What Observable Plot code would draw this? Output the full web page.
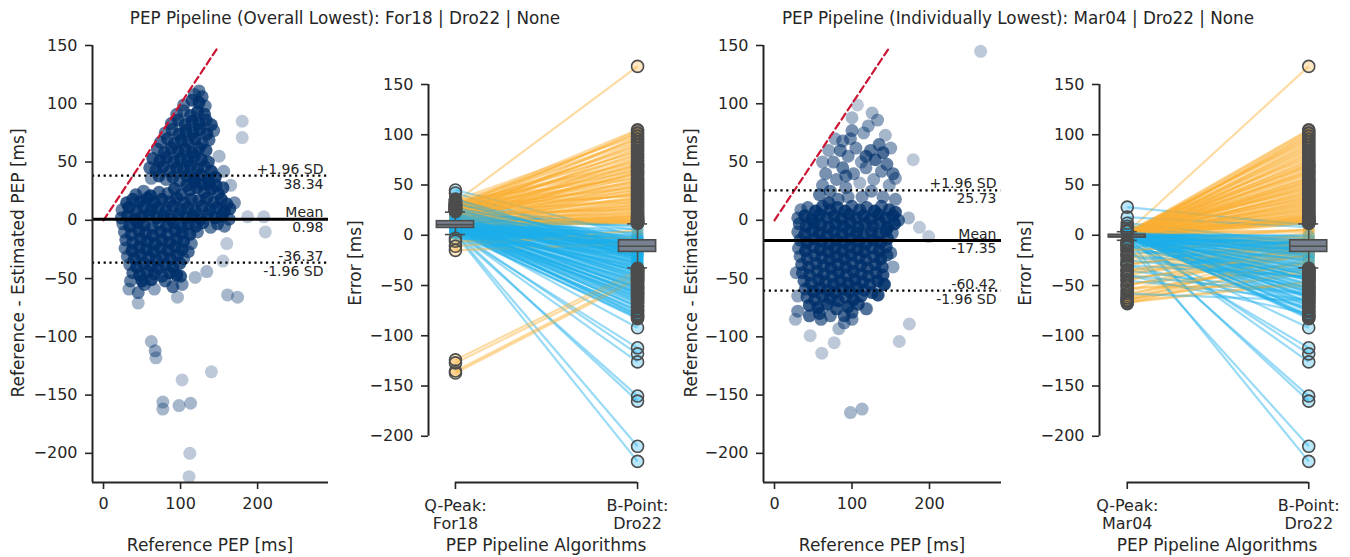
<!DOCTYPE html>
<html>
<head>
<meta charset="utf-8">
<script src="https://cdn.jsdelivr.net/npm/d3@7"></script>
<script src="https://cdn.jsdelivr.net/npm/@observablehq/plot@0.6"></script>
<style>
  html, body { margin: 0; padding: 0; background: #fff; }
  #wrap { position: relative; width: 1350px; height: 557px; overflow: hidden; font-family: "DejaVu Sans", sans-serif; color: #262626; }
  #wrap svg { position: absolute; top: 0; }
  .lbl { position: absolute; white-space: nowrap; font-size: 17px; line-height: 20px; transform: translate(-50%, -50%); }
  .rot { transform: translate(-50%, -50%) rotate(-90deg); }
  .ttl { position: absolute; top: 7px; white-space: nowrap; font-size: 16.8px; line-height: 22px; transform: translateX(-50%); }
</style>
</head>
<body>
<div id="wrap"></div>
<script>
// ------------------------------------------------------------------ DATA
const titles = [
  "PEP Pipeline (Overall Lowest): For18 | Dro22 | None",
  "PEP Pipeline (Individually Lowest): Mar04 | Dro22 | None"
];
const yTicks = [-200, -150, -100, -50, 0, 50, 100, 150];
const refTicks = [0, 100, 200];
const identityRange = [0, 148];

// Bland-Altman statistics: [mean, +1.96 SD, -1.96 SD]
const baStatsOverall = [0.98, 38.34, -36.37];
const baStatsIndividual = [-17.35, 25.73, -60.42];

// Bland-Altman points [Reference PEP, Reference - Estimated PEP] (overall lowest)
const baPointsOverall = [
  [42,22],[52,25],[61,21],[72,24],[83,23],[92,27],[101,22],[112,26],[121,28],[131,24],[140,27],[149,23],
  [30,15],[38,18],[47,16],[57,19],[66,15],[76,18],[86,16],[95,19],[105,15],[114,18],[124,17],[134,19],[143,15],[153,18],[160,14],
  [24,9],[33,11],[43,8],[52,12],[62,9],[71,11],[81,8],[90,12],[100,9],[109,11],[119,8],[128,12],[138,9],[147,11],[157,8],[164,10],
  [23,2],[31,4],[41,1],[50,3],[59,5],[69,2],[78,4],[88,1],[97,5],[107,2],[116,4],[126,1],[135,5],[145,2],[154,4],[163,1],
  [25,-3],[34,-5],[44,-2],[53,-4],[63,-6],[72,-3],[82,-5],[91,-2],[101,-6],[110,-3],[120,-5],[129,-2],[139,-6],[148,-3],[157,-5],
  [118,33],[128,31],[137,32],[146,30],[155,28],[108,30],
  [27,-10],[36,-12],[46,-9],[55,-11],[64,-13],[74,-10],[83,-12],[93,-9],[102,-11],[112,-12],[122,-10],
  [29,-17],[38,-19],[48,-16],[57,-18],[67,-20],[76,-17],[86,-19],[95,-16],[104,-18],[114,-20],
  [28,-24],[37,-26],[46,-23],[56,-25],[65,-27],[74,-24],[84,-26],[93,-23],[102,-25],[110,-27],
  [31,-31],[40,-33],[49,-30],[59,-32],[68,-34],[77,-31],[87,-33],[96,-30],[104,-33],
  [34,-38],[43,-40],[52,-37],[62,-39],[71,-41],[80,-38],[90,-40],[99,-37],
  [38,-45],[47,-47],[57,-44],[66,-46],[76,-48],[86,-45],[95,-47],
  [35,-52],[50,-52],[62,-51],[80,-52],[100,-48],
  [62,36],[72,38],[81,35],[90,37],[99,34],[108,38],[117,36],[126,39],[136,35],[145,37],
  [60,45],[68,43],[77,46],[86,42],[95,45],[104,43],[113,47],[122,44],[131,46],[140,42],
  [64,53],[73,51],[82,54],[91,50],[100,53],[109,51],[118,55],[127,52],[136,50],
  [70,61],[79,58],[88,62],[97,59],[106,61],[115,58],[124,62],[133,60],
  [74,67],[83,70],[92,66],[101,69],[110,67],[119,70],[128,66],[137,69],
  [80,75],[89,78],[98,74],[107,77],[116,75],[125,78],[134,74],[143,77],
  [88,83],[97,86],[106,82],[115,85],[124,83],[133,86],[140,82],
  [95,91],[104,94],[113,90],[122,93],[131,91],
  [104,99],[115,103],[124,101],[132,98],
  [118,108],[124,111],[128,106],
  [180,85],[180,71],[156,42],[150,55],[165,30],[170,15],[187,3],[208,3],[210,-10],[160,-20],[155,-35],
  [33,-59],[45,-62],[45,-71],[53,-55],[66,-59],[96,-66],[90,-57],[102,-55],[119,-49],[134,-44],
  [161,-64],[174,-66],[62,-104],[67,-112],[68,-118],[102,-137],[140,-130],[77,-156],[77,-162],[98,-159],
  [113,-157],[112,-200],[111,-220]
];

// Bland-Altman points (individually lowest)
const baPointsIndividual = [
  [34,9],[43,11],[53,8],[62,12],[72,9],[81,11],[91,8],[100,12],[110,9],[119,11],[129,8],[138,12],[148,9],[156,7],
  [30,2],[39,4],[48,1],[58,5],[67,2],[77,4],[86,1],[96,5],[105,2],[115,4],[124,1],[134,5],[143,2],[153,4],[160,0],
  [32,-3],[41,-5],[51,-2],[60,-4],[70,-6],[79,-3],[89,-5],[98,-2],[108,-6],[117,-3],[127,-5],[136,-2],[146,-6],[155,-3],
  [30,-10],[39,-12],[49,-9],[58,-11],[68,-13],[77,-10],[87,-12],[96,-9],[106,-11],[115,-13],[125,-10],[134,-12],[144,-9],[152,-11],
  [33,-17],[42,-19],[52,-16],[61,-18],[71,-20],[80,-17],[90,-19],[99,-16],[109,-18],[118,-20],[128,-17],[137,-19],[146,-16],
  [31,-24],[40,-26],[50,-23],[59,-25],[69,-27],[78,-24],[88,-26],[97,-23],[107,-25],[116,-27],[126,-24],[135,-26],[144,-23],
  [33,-31],[42,-33],[52,-30],[61,-32],[71,-34],[80,-31],[90,-33],[99,-30],[109,-32],[118,-34],[128,-31],[137,-33],[145,-30],
  [35,-38],[44,-40],[54,-37],[63,-39],[73,-41],[82,-38],[92,-40],[101,-37],[111,-39],[120,-41],[130,-38],[139,-40],
  [36,-45],[45,-47],[55,-44],[64,-46],[74,-48],[83,-45],[93,-47],[102,-44],[112,-46],[121,-48],[131,-45],[140,-47],
  [38,-52],[47,-54],[57,-51],[66,-53],[76,-55],[85,-52],[95,-54],[104,-51],[114,-53],[123,-55],[133,-52],
  [40,-59],[50,-61],[59,-58],[69,-60],[78,-62],[88,-59],[97,-61],[107,-58],[116,-60],[126,-62],
  [42,-66],[52,-68],[62,-65],[72,-67],[82,-69],[92,-66],[102,-68],[112,-65],
  [45,-73],[56,-75],[68,-72],[80,-76],[95,-74],[108,-72],
  [150,-28],[153,-40],[142,-55],[134,-64],[30,-65],[28,-45],[58,-80],[72,-82],[90,-82],[100,-79],[118,-76],
  [58,22],[62,30],[66,40],[72,25],[76,50],[80,35],[85,60],[88,45],[92,28],[95,55],
  [98,70],[100,88],[102,40],[105,62],[107,99],[110,32],[112,50],[115,75],[118,45],[121,81],
  [124,60],[126,92],[128,35],[130,52],[133,86],[135,65],[138,42],[140,58],[143,73],[145,48],
  [148,30],[150,62],[153,40],[156,36],[156,18],[100,77],[88,68],[118,55],[113,20],[125,25],
  [82,18],[70,15],[95,20],[140,20],[92,38],[62,50],[70,60],[78,70],
  [179,52],[173,2],[187,-6],[199,-14],[266,145],[27,-85],[46,-99],[61,-114],[77,-105],[83,-93],
  [119,-76],[161,-104],[174,-89],[98,-165],[113,-162],[141,-55],[133,-64],[30,-78],[45,-82],[60,-85],
  [90,-88],[100,-85]
];

// Paired per-heartbeat errors [ms] (same heartbeat at the same index)
const errQFor18 = [
  33,30,28,35,26,31,24,29,27,22,  25,20,32,18,23,27,15,21,19,30,
  17,24,14,28,12,20,16,26,13,22,  11,18,15,13,10,21,14,12,16,11,
  13,12,10,11,14,9,12,10,11,9,
  14,22,11,30,9,18,12,45,8,25,   10,16,7,35,12,20,3,27,11,14,
  9,23,12,5,31,13,10,19,42,8,    15,11,21,6,13,28,10,17,12,24,
  9,14,33,11,7,20,12,16,4,10,    13,8,22,10,15,6,12,18,9,11,
  10,7,13,5,9,11,4,8,6,12,
  8,5,10,3,7,6,9,2,4,6,          2,5,3,1,4,2,1,-124,-127,-135,
  -137,-3,-6,-11,-15,
  24,29,19,33,22,27,17,30,25,14, 28,21,31,12,26,18,23,35,16,29,
  20,13,27,24,11,22,30,15,19,25, 12,17,21,14,10,13,11,9,
  12,20,9,27,14,6,18,11,24,15,   8,32,13,19,10,22,7,16,36,12,
  9,26,14,11,17,5,20,13,10,15,   8,12,11,9,14,7,10,6,11,8,
  10,7,12,9,6,8,5,7,4,6,3
];
const errQMar04 = [
  3,2,0,-1,1,4,-2,0,2,-3,        1,-1,3,0,2,-2,1,0,-4,2,
  0,1,-1,2,5,-3,0,1,-2,3,        0,-1,2,1,-2,0,3,-1,1,0,
  2,-3,1,0,-1,4,-2,0,1,-4,
  28,18,-8,2,0,-20,1,-12,3,-30,  1,-40,2,-15,0,-55,-1,12,-25,1,
  -2,0,-45,2,-18,1,-60,9,0,-35,  0,-65,3,-28,1,-2,-50,7,-38,0,
  -68,1,-3,-58,0,-42,2,-5,-62,1, 0,-48,-2,-64,1,-30,-4,2,-66,0,
  -1,-20,0,-10,2,-35,-3,1,-45,0,
  -2,1,-30,0,2,-40,-1,1,0,-8,    -5,0,2,-1,3,-10,-3,-20,-15,-6,
  -12,0,-4,1,-2,
  1,-2,0,3,-1,2,0,-3,1,4,        -1,0,2,-2,1,3,-1,0,-4,2,
  1,-2,0,3,-1,1,0,2,-3,0,        1,-1,2,0,-2,1,3,-1,
  0,-15,2,-35,1,-22,0,3,-50,1,   -28,0,-6,2,-44,0,1,-62,-2,0,
  -36,1,-9,0,-55,2,-1,-64,0,-25, 1,-67,0,-52,2,-3,-40,0,1,-58,
  1,-2,0,3,-1,0,2,-3,1,0,-1
];
const errBDro22 = [
  168,105,102,99,96,93,90,87,84,81,  78,75,72,70,68,65,63,61,58,56,
  54,52,50,48,46,44,42,40,38,36,     34,32,30,28,27,25,24,22,21,20,
  19,18,17,16,15,14,14,13,12,12,
  10,8,6,5,3,2,0,-1,-2,-3,           -4,-5,-5,-6,-7,-7,-8,-8,-9,-9,
  -10,-10,-11,-11,-12,-12,-13,-13,-14,-14,  -15,-15,-16,-17,-17,-18,-19,-20,-21,-22,
  -23,-24,-25,-26,-27,-28,-29,-30,-31,-32,  -34,-35,-37,-38,-40,-41,-43,-44,-46,-48,
  -50,-52,-53,-55,-57,-58,-60,-62,-64,-66,
  -68,-70,-72,-74,-76,-78,-80,-82,-83,-92,  -112,-118,-126,-160,-165,-210,-225,-35,-38,-42,
  -44,-20,-2,5,-8,
  104,101,98,95,92,89,86,83,80,77,   74,71,69,67,64,62,60,57,55,53,
  51,49,47,45,43,41,39,37,35,33,     31,29,26,23,19,17,15,13,
  -1,-3,-4,-6,-6,-8,-9,-10,-11,-12,  -12,-13,-14,-15,-16,-16,-17,-18,-19,-20,
  -21,-22,-24,-26,-28,-30,-33,-36,-39,-42,  -45,-47,-49,-51,-54,-56,-59,-61,-63,-65,
  -34,-36,-40,-45,-52,-58,-67,-71,-75,-79,-81
];

// Box statistics: [lower whisker, Q1, median, Q3, upper whisker]
const boxFor18 = [0.7, 7.3, 10.6, 14, 23];
const boxMar04 = [-5, -2.3, -1, 0.5, 3.5];
const boxDro22 = [-32.5, -16.6, -11, -5, 11.3];

const labelsOverall = ["Q-Peak:\nFor18", "B-Point:\nDro22"];
const labelsIndividual = ["Q-Peak:\nMar04", "B-Point:\nDro22"];

// ------------------------------------------------------------------ STYLE
const NAVY = "#00306b", RED = "#cc1433", ORANGE = "#fbb034", BLUE = "#1cb0ec";
const INK = "#262626", BOXFILL = "#77818f", BOXLINE = "#4d4d4d";
const FONT = '"DejaVu Sans", sans-serif';
const TICKFONT = 16, ANNFONT = 14;
const baseStyle = {fontFamily: FONT, fontSize: TICKFONT + "px", color: INK, background: "transparent", overflow: "visible"};

const wrap = document.getElementById("wrap");
function place(svg, left) { svg.style.left = left + "px"; wrap.appendChild(svg); }
function html(text, x, y, cls) {
  const d = document.createElement("div");
  d.className = cls; d.textContent = text;
  d.style.left = x + "px"; d.style.top = y + "px";
  wrap.appendChild(d);
}

// overlapping translucent markers: opacity grows with the local crowding (in pixels)
function crowdOpacity(pts, sx, sy) {
  return pts.map(([x, y]) => {
    let n = 0;
    for (const [u, v] of pts) {
      const dx = (u - x) * sx, dy = (v - y) * sy;
      if (dx * dx + dy * dy < 170) n++;
    }
    return Math.min(0.88, 0.26 + 0.09 * (n - 1));
  });
}

function blandAltman({pts, stats, xDom, width, mL, mR}) {
  const yDom = [-225, 150];
  const [mean, hi, lo] = stats;
  const f = v => v.toFixed(2);
  const above = [{y: hi, t: "+1.96 SD"}, {y: mean, t: "Mean"}, {y: lo, t: f(lo)}];
  const below = [{y: hi, t: f(hi)}, {y: mean, t: f(mean)}, {y: lo, t: "-1.96 SD"}];
  const pw = width - mL - mR, ph = 557 - 45 - 75;
  const op = crowdOpacity(pts, pw / (xDom[1] - xDom[0]), ph / (yDom[1] - yDom[0]));
  return Plot.plot({
    width, height: 557, marginLeft: mL, marginRight: mR, marginTop: 45, marginBottom: 75,
    x: {domain: xDom}, y: {domain: yDom}, opacity: {type: "identity"},
    style: baseStyle,
    marks: [
      Plot.dot(pts, {x: d => d[0], y: d => d[1], r: 6.5, fill: NAVY, fillOpacity: (d, i) => op[i]}),
      Plot.line(identityRange.map(v => [v, v]), {x: d => d[0], y: d => d[1], stroke: RED, strokeWidth: 2.2, strokeDasharray: "7,4"}),
      Plot.ruleY([mean], {stroke: "#000", strokeWidth: 3}),
      Plot.ruleY([hi, lo], {stroke: "#000", strokeWidth: 2.2, strokeDasharray: "2.2,3.6"}),
      Plot.text(above, {x: xDom[1], y: "y", text: "t", textAnchor: "end", lineAnchor: "bottom", dx: -5, dy: -2, fontSize: ANNFONT, fill: INK}),
      Plot.text(below, {x: xDom[1], y: "y", text: "t", textAnchor: "end", lineAnchor: "top", dx: -5, dy: 3, fontSize: ANNFONT, fill: INK}),
      Plot.ruleX([xDom[0]], {y1: yDom[0], y2: yDom[1], stroke: INK, strokeWidth: 2}),
      Plot.ruleY([yDom[0]], {x1: xDom[0], x2: xDom[1], stroke: INK, strokeWidth: 2}),
      Plot.axisY(yTicks, {tickSize: 7, tickPadding: 8, label: null, fontSize: TICKFONT, strokeWidth: 1.6}),
      Plot.axisX(refTicks, {tickSize: 7, tickPadding: 8, label: null, fontSize: TICKFONT, strokeWidth: 1.6})
    ]
  });
}

function slopePanel({q, b, qStats, bStats, labels, xDom, width, mL, mR}) {
  const yDom = [-246, 188.8];
  const n = Math.min(q.length, b.length);
  const rows = q.slice(0, n).map((v, i) => ({q: v, b: b[i], c: b[i] > v ? ORANGE : BLUE}));
  const W = 0.102, C = 0.055;
  const box = (s, pos) => [
    Plot.ruleX([s], {x: () => pos, y1: d => d[0], y2: d => d[1], stroke: BOXLINE, strokeWidth: 1.6}),
    Plot.ruleX([s], {x: () => pos, y1: d => d[3], y2: d => d[4], stroke: BOXLINE, strokeWidth: 1.6}),
    Plot.ruleY([s[0], s[4]], {y: d => d, x1: () => pos - C, x2: () => pos + C, stroke: BOXLINE, strokeWidth: 1.6}),
    Plot.rect([s], {x1: () => pos - W, x2: () => pos + W, y1: d => d[1], y2: d => d[3], fill: BOXFILL, stroke: BOXLINE, strokeWidth: 1.6}),
    Plot.ruleY([s[2]], {y: d => d, x1: () => pos - W, x2: () => pos + W, stroke: BOXLINE, strokeWidth: 1.6})
  ];
  const fl = (vals, s) => vals.filter(v => v < s[0] || v > s[4]);
  return Plot.plot({
    width, height: 557, marginLeft: mL, marginRight: mR, marginTop: 45, marginBottom: 75,
    x: {domain: xDom}, y: {domain: yDom}, color: {type: "identity"},
    style: baseStyle,
    marks: [
      Plot.link(rows, {x1: () => 0, y1: "q", x2: () => 1, y2: "b", stroke: "c", strokeOpacity: 0.45, strokeWidth: 2.2}),
      Plot.dot(rows, {x: () => 0, y: "q", r: 6, fill: "c", fillOpacity: 0.3}),
      Plot.dot(rows, {x: () => 1, y: "b", r: 6, fill: "c", fillOpacity: 0.3}),
      ...box(qStats, 0),
      ...box(bStats, 1),
      Plot.dot(fl(rows.map(d => d.q), qStats), {x: () => 0, y: d => d, r: 6, stroke: BOXLINE, strokeWidth: 1.6, fill: "none"}),
      Plot.dot(fl(rows.map(d => d.b), bStats), {x: () => 1, y: d => d, r: 6, stroke: BOXLINE, strokeWidth: 1.6, fill: "none"}),
      Plot.ruleX([xDom[0]], {y1: yTicks[0], y2: yTicks[yTicks.length - 1], stroke: INK, strokeWidth: 2}),
      Plot.ruleY([yDom[0]], {x1: 0, x2: 1, stroke: INK, strokeWidth: 2}),
      Plot.axisY(yTicks, {tickSize: 7, tickPadding: 8, label: null, fontSize: TICKFONT, strokeWidth: 1.6}),
      Plot.axisX([0, 1], {tickSize: 7, tickPadding: 8, label: null, fontSize: TICKFONT, strokeWidth: 1.6, lineHeight: 1.15, tickFormat: i => labels[i]})
    ]
  });
}

// ------------------------------------------------------------------ RENDER
place(blandAltman({pts: baPointsOverall, stats: baStatsOverall, xDom: [-14.3, 292], width: 340, mL: 92, mR: 12}), 0);
place(slopePanel({q: errQFor18, b: errBDro22, qStats: boxFor18, bStats: boxDro22, labels: labelsOverall, xDom: [-0.148, 1.148], width: 340, mL: 88, mR: 16}), 340);
place(blandAltman({pts: baPointsIndividual, stats: baStatsIndividual, xDom: [-14.2, 292.9], width: 340, mL: 83, mR: 19}), 680);
place(slopePanel({q: errQMar04, b: errBDro22, qStats: boxMar04, bStats: boxDro22, labels: labelsIndividual, xDom: [-0.153, 1.153], width: 340, mL: 89, mR: 14}), 1010);

html(titles[0], 345, 7, "ttl");
html(titles[1], 1018, 7, "ttl");
html("Reference - Estimated PEP [ms]", 18, 263, "lbl rot");
html("Reference PEP [ms]", 210, 545, "lbl");
html("Error [ms]", 355, 263, "lbl rot");
html("PEP Pipeline Algorithms", 546, 545, "lbl");
html("Reference - Estimated PEP [ms]", 691, 263, "lbl rot");
html("Reference PEP [ms]", 882, 545, "lbl");
html("Error [ms]", 1025, 263, "lbl rot");
html("PEP Pipeline Algorithms", 1217, 545, "lbl");
</script>
</body>
</html>
